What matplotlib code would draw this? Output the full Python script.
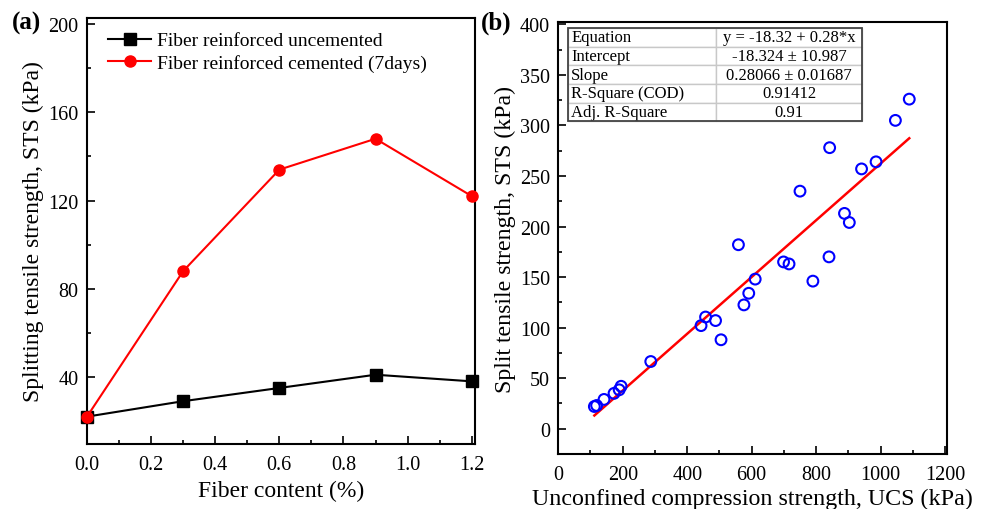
import matplotlib
matplotlib.use("Agg")
import matplotlib.pyplot as plt
from matplotlib.ticker import MultipleLocator
from matplotlib.patches import Rectangle

plt.rcParams['font.family'] = ['Liberation Serif', 'DejaVu Serif']
plt.rcParams['axes.linewidth'] = 1.5

# (a) fiber content vs splitting tensile strength
fiber = [0.0, 0.3, 0.6, 0.9, 1.2]
sts_uncemented = [22, 29, 35, 41, 38]
sts_cemented = [22, 88, 134, 148, 122]

# (b) UCS vs STS with linear fit
ucs = [112, 119, 142, 173, 189, 195, 287, 443, 457, 488, 505, 559, 576, 591, 611,
       699, 716, 750, 790, 840, 842, 888, 903, 941, 986, 1046, 1089]
sts = [22, 23, 29, 35, 38.5, 42, 66.5, 102, 110.5, 107, 88, 182, 122.5, 134, 148,
       165, 163, 235, 146, 170, 278, 213, 204, 257, 264, 305, 326]
fit_b0 = -18.324
fit_b1 = 0.28066
table_rows = [
    ["Equation", "y = -18.32 + 0.28*x"],
    ["Intercept", "-18.324 \u00b1 10.987"],
    ["Slope", "0.28066 \u00b1 0.01687"],
    ["R-Square (COD)", "0.91412"],
    ["Adj. R-Square", "0.91"],
]

fig = plt.figure(figsize=(9.82, 5.10), dpi=100, facecolor='white')
ax1 = fig.add_axes([0.0886, 0.1275, 0.395, 0.835])
ax2 = fig.add_axes([0.5685, 0.1078, 0.3955, 0.8465])

tick_fs = 14.5

def style_axis(ax):
    ax.tick_params(which='both', direction='in', top=False, right=False,
                   labelsize=tick_fs, width=1.2)
    ax.tick_params(which='major', length=6)
    ax.tick_params(which='minor', length=3)
    ax.tick_params(axis='x', pad=8)
    ax.tick_params(axis='y', pad=6)

# ---- panel (a)
ax1.plot(fiber, sts_uncemented, color='black', lw=1.5, marker='s', ms=8,
         label='Fiber reinforced uncemented', clip_on=False, zorder=3)
ax1.plot(fiber, sts_cemented, color='red', lw=1.5, marker='o', ms=8,
         label='Fiber reinforced cemented (7days)', clip_on=False, zorder=4)
ax1.set_xlim(0, 1.21)
ax1.set_ylim(9.6, 202.7)
ax1.xaxis.set_major_locator(MultipleLocator(0.2))
ax1.xaxis.set_minor_locator(MultipleLocator(0.1))
ax1.yaxis.set_major_locator(MultipleLocator(40))
ax1.yaxis.set_minor_locator(MultipleLocator(20))
ax1.xaxis.set_major_formatter(plt.FuncFormatter(lambda v, p: f"{v:.1f}"))
style_axis(ax1)
ax1.set_xlabel('Fiber content (%)', fontsize=17, labelpad=4)
ax1.set_ylabel('Splitting tensile strength, STS (kPa)', fontsize=17, labelpad=3)
ax1.legend(loc='upper left', bbox_to_anchor=(0.02, 1.0), frameon=False,
           fontsize=14, handlelength=2.2, handletextpad=0.3, labelspacing=0.25,
           borderaxespad=0.3)
fig.text(0.012, 0.942, '(a)', fontsize=18, fontweight='bold')

# ---- panel (b)
ax2.scatter(ucs, sts, s=60, facecolors='none', edgecolors='blue', linewidths=1.5,
            zorder=3)
x_fit = [min(ucs), max(ucs)]
y_fit = [fit_b0 + fit_b1 * v for v in x_fit]
ax2.plot(x_fit, y_fit, color='red', lw=1.8, zorder=2)
ax2.set_xlim(0, 1205)
ax2.set_ylim(-25, 402)
ax2.xaxis.set_major_locator(MultipleLocator(200))
ax2.xaxis.set_minor_locator(MultipleLocator(100))
ax2.yaxis.set_major_locator(MultipleLocator(50))
ax2.yaxis.set_minor_locator(MultipleLocator(25))
style_axis(ax2)
ax2.set_xlabel('Unconfined compression strength, UCS (kPa)', fontsize=17.3, labelpad=3)
ax2.set_ylabel('Split tensile strength, STS (kPa)', fontsize=17.2, labelpad=3)
fig.text(0.490, 0.942, '(b)', fontsize=18, fontweight='bold')

# fit summary table
tbl = ax2.table(cellText=table_rows, bbox=[0.0257, 0.7707, 0.757, 0.216],
                colWidths=[0.502, 0.498], cellLoc='center')
tbl.auto_set_font_size(False)
tbl.set_fontsize(12)
for (r, c), cell in tbl.get_celld().items():
    cell.set_edgecolor('#c8c8c8')
    cell.set_linewidth(1.0)
    cell.PAD = 0.02
    if c == 0:
        cell.get_text().set_horizontalalignment('left')
ax2.add_patch(Rectangle((0.0257, 0.7707), 0.757, 0.216, transform=ax2.transAxes,
                        fill=False, edgecolor='#444444', lw=1.3, zorder=10))

fig.savefig('out.png', dpi=100, facecolor='white')
